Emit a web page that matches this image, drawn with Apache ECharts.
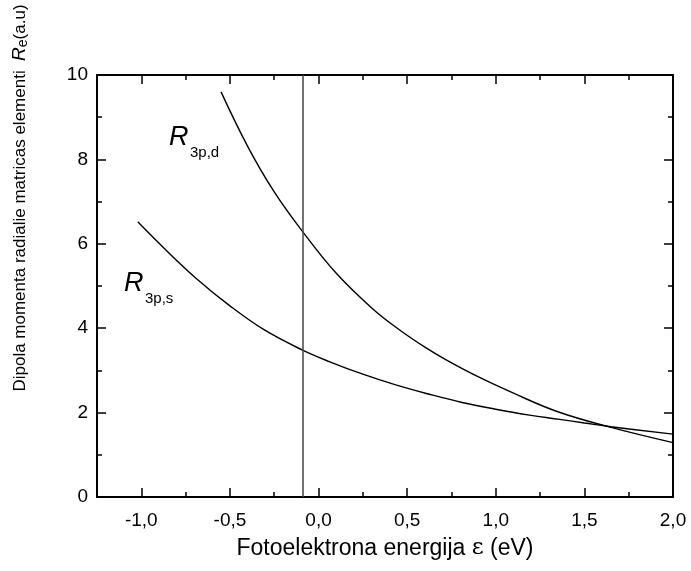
<!DOCTYPE html>
<html>
<head>
<meta charset="utf-8">
<script src="https://cdn.jsdelivr.net/npm/echarts@6/dist/echarts.min.js"></script>
<style>
  html, body { margin: 0; padding: 0; background: #fff; }
  #chart { width: 691px; height: 571px; }
</style>
</head>
<body>
<div id="chart"></div>
<script>
// dati nolasiti no attela
var xMajor = [-1.0, -0.5, 0.0, 0.5, 1.0, 1.5, 2.0];
var xMinor = [-1.25, -0.75, -0.25, 0.25, 0.75, 1.25, 1.75];
var vLineX = -0.09;

// R 3p,s
var sEnergy = [-1.02, -0.88, -0.69, -0.50, -0.31, -0.09, 0.06, 0.25, 0.44, 0.62, 0.81, 1.00, 1.19, 1.36, 1.50, 1.65, 2.00];
var sValue  = [6.52, 5.93, 5.18, 4.53, 3.97, 3.48, 3.21, 2.91, 2.65, 2.44, 2.24, 2.08, 1.94, 1.84, 1.755, 1.665, 1.49];

// R 3p,d
var dEnergy = [-0.55, -0.40, -0.25, -0.09, 0.10, 0.30, 0.45, 0.60, 0.72, 0.90, 1.10, 1.35, 1.65, 2.00];
var dValue  = [9.60, 8.31, 7.23, 6.29, 5.30, 4.48, 3.98, 3.55, 3.25, 2.85, 2.46, 2.02, 1.65, 1.29];

function zip(a, b) {
  return a.map(function (v, i) { return [v, b[i]]; });
}

function commaFmt(v) {
  return v.toFixed(1).replace('.', ',');
}

var chart = echarts.init(document.getElementById('chart'));
var font = 'Liberation Sans, Arial, sans-serif';
var black = '#000';

var option = {
  animation: false,
  backgroundColor: '#fff',
  grid: { left: 97, right: 18, top: 75, bottom: 74 },
  xAxis: [
    {
      type: 'value', position: 'bottom', min: -1.25, max: 2.0,
      axisLine: { show: true, onZero: false, lineStyle: { color: black, width: 2 } },
      axisTick: { show: true, inside: true, length: 9, customValues: xMajor, lineStyle: { color: black, width: 1.5 } },
      axisLabel: { customValues: xMajor, formatter: commaFmt, color: black, fontSize: 19, fontFamily: font, margin: 14 },
      splitLine: { show: false },
      name: 'Fotoelektrona energija {e|ε} (eV)',
      nameLocation: 'middle', nameGap: 40,
      nameTextStyle: {
        color: black, fontSize: 23, fontFamily: font,
        rich: { e: { fontSize: 23, fontFamily: 'DejaVu Serif, Liberation Serif, serif', color: black } }
      }
    },
    {
      type: 'value', position: 'bottom', min: -1.25, max: 2.0,
      axisLine: { show: false, onZero: false },
      axisTick: { show: true, inside: true, length: 5, customValues: xMinor, lineStyle: { color: black, width: 1.5 } },
      axisLabel: { show: false },
      splitLine: { show: false }
    },
    {
      type: 'value', position: 'top', min: -1.25, max: 2.0,
      axisLine: { show: true, onZero: false, lineStyle: { color: black, width: 2 } },
      axisTick: { show: true, inside: true, length: 9, customValues: xMajor, lineStyle: { color: black, width: 1.5 } },
      axisLabel: { show: false },
      splitLine: { show: false }
    },
    {
      type: 'value', position: 'top', min: -1.25, max: 2.0,
      axisLine: { show: false, onZero: false },
      axisTick: { show: true, inside: true, length: 5, customValues: xMinor, lineStyle: { color: black, width: 1.5 } },
      axisLabel: { show: false },
      splitLine: { show: false }
    }
  ],
  yAxis: [
    {
      type: 'value', position: 'left', min: 0, max: 10, interval: 2,
      axisLine: { show: true, onZero: false, lineStyle: { color: black, width: 2 } },
      axisTick: { show: true, inside: true, length: 9, lineStyle: { color: black, width: 1.5 } },
      minorTick: { show: true, splitNumber: 2, length: 5, lineStyle: { color: black, width: 1.5 } },
      axisLabel: { color: black, fontSize: 19, fontFamily: font, margin: 9 },
      splitLine: { show: false }
    },
    {
      type: 'value', position: 'right', min: 0, max: 10, interval: 2,
      axisLine: { show: true, onZero: false, lineStyle: { color: black, width: 2 } },
      axisTick: { show: true, inside: true, length: 9, lineStyle: { color: black, width: 1.5 } },
      minorTick: { show: true, splitNumber: 2, length: 5, lineStyle: { color: black, width: 1.5 } },
      axisLabel: { show: false },
      splitLine: { show: false }
    }
  ],
  graphic: [
    {
      type: 'text', x: 20, y: 198, rotation: Math.PI / 2,
      style: {
        text: '{a|Dipola momenta radialie matricas elementi  }{r|R}{s|e}{a|(a.u)}',
        align: 'center', verticalAlign: 'middle',
        rich: {
          a: { fontSize: 17, fontFamily: font, fill: black },
          r: { fontSize: 19, fontFamily: font, fontStyle: 'italic', fill: black },
          s: { fontSize: 14, fontFamily: font, fill: black, padding: [6, 0, 0, 0] }
        }
      }
    },
    { type: 'text', x: 169, y: 137, style: { text: 'R', fontSize: 27, fontStyle: 'italic', fontFamily: font, fill: black, verticalAlign: 'middle' } },
    { type: 'text', x: 190, y: 153, style: { text: '3p,d', fontSize: 15, fontFamily: font, fill: black, verticalAlign: 'middle' } },
    { type: 'text', x: 124, y: 283, style: { text: 'R', fontSize: 27, fontStyle: 'italic', fontFamily: font, fill: black, verticalAlign: 'middle' } },
    { type: 'text', x: 145, y: 299, style: { text: '3p,s', fontSize: 15, fontFamily: font, fill: black, verticalAlign: 'middle' } }
  ],
  series: [
    {
      name: 'R3p,s', type: 'line', xAxisIndex: 0, yAxisIndex: 0,
      data: zip(sEnergy, sValue), smooth: 0.4, showSymbol: false,
      lineStyle: { color: black, width: 1.4 }
    },
    {
      name: 'R3p,d', type: 'line', xAxisIndex: 0, yAxisIndex: 0,
      data: zip(dEnergy, dValue), smooth: 0.4, showSymbol: false,
      lineStyle: { color: black, width: 1.4 },
      markLine: {
        silent: true, symbol: 'none', label: { show: false },
        lineStyle: { color: '#444', width: 1.5, type: 'solid' },
        data: [{ xAxis: vLineX }]
      }
    }
  ]
};

chart.setOption(option);
</script>
</body>
</html>
